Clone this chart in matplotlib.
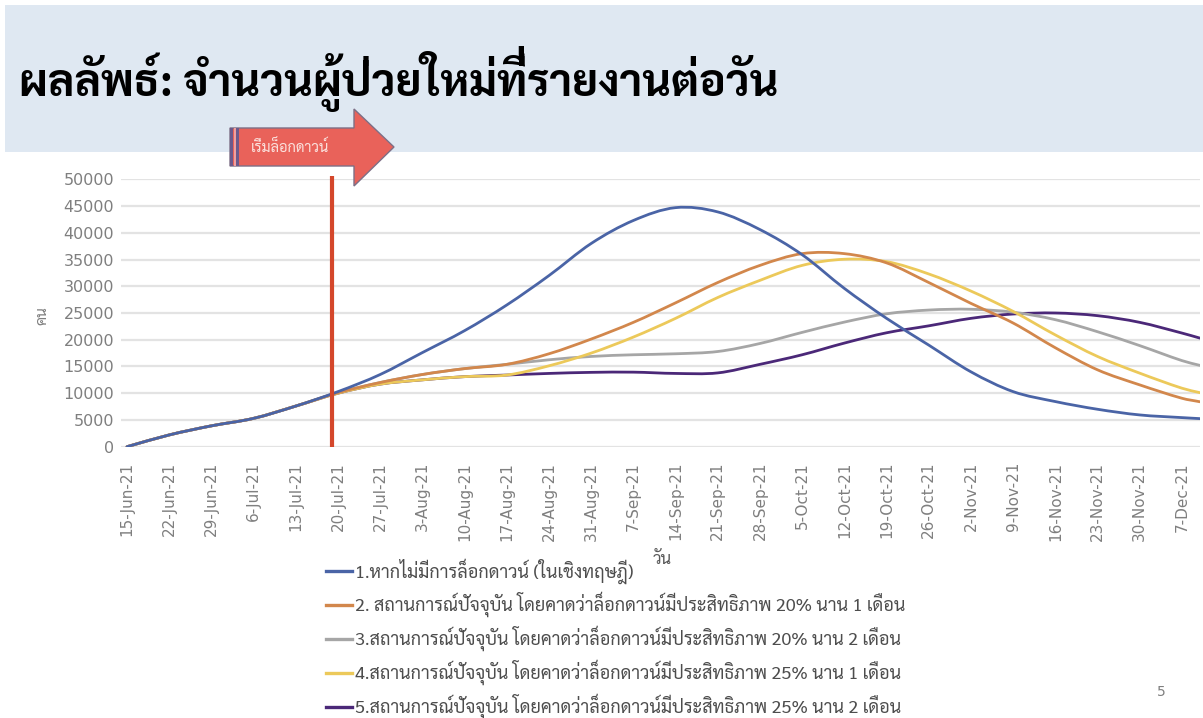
import datetime as dt
import numpy as np
import matplotlib
matplotlib.use("Agg")
import matplotlib.pyplot as plt
import matplotlib.dates as mdates
import matplotlib.transforms as mtransforms
from matplotlib.path import Path
from matplotlib.patches import PathPatch, Rectangle, Polygon
from matplotlib.lines import Line2D

# ---------------- data ----------------
start = dt.date(2021, 6, 15)
day_offsets = [0, 7, 14, 21, 28, 35, 42, 49, 56, 63, 70, 77, 84, 91, 98, 105,
               112, 119, 126, 133, 140, 147, 154, 161, 168, 175, 178]
dates = [start + dt.timedelta(days=d) for d in day_offsets]

s1_no_lockdown = [0, 2200, 3900, 5300, 7600, 10300, 13500, 17600, 21700, 26500,
                  32000, 38000, 42300, 44700, 43900, 40600, 35900, 29600, 24000,
                  19000, 14000, 10300, 8440, 7000, 5940, 5440, 5250]
s2_20pct_1m = [0, 2200, 3900, 5300, 7600, 10100, 12000, 13500, 14600, 15400,
               17375, 20125, 23250, 26900, 30700, 33900, 36100, 36100, 34375,
               30700, 26800, 23125, 18500, 14375, 11560, 9060, 8400]
s3_20pct_2m = [0, 2200, 3900, 5300, 7600, 10100, 12000, 13500, 14600, 15400,
               16250, 16875, 17190, 17375, 17800, 19300, 21375, 23300, 24850,
               25550, 25700, 25150, 23750, 21500, 18900, 16100, 15200]
s4_25pct_1m = [0, 2200, 3900, 5300, 7600, 10000, 11700, 12500, 13100, 13400,
               15125, 17500, 20500, 24000, 27900, 31100, 33900, 35050, 34600,
               32300, 29100, 25300, 20900, 16875, 13750, 10940, 10100]
s5_25pct_2m = [0, 2200, 3900, 5300, 7600, 10000, 11700, 12500, 13100, 13400,
               13700, 13900, 13940, 13700, 13800, 15400, 17190, 19375, 21300,
               22600, 24000, 24810, 25000, 24500, 23250, 21250, 20300]

series_labels = [
    "1.หากไม่มีการล็อกดาวน์ (ในเชิงทฤษฎี)",
    "2. สถานการณ์ปัจจุบัน โดยคาดว่าล็อกดาวน์มีประสิทธิภาพ 20% นาน 1 เดือน",
    "3.สถานการณ์ปัจจุบัน โดยคาดว่าล็อกดาวน์มีประสิทธิภาพ 20% นาน 2 เดือน",
    "4.สถานการณ์ปัจจุบัน โดยคาดว่าล็อกดาวน์มีประสิทธิภาพ 25% นาน 1 เดือน",
    "5.สถานการณ์ปัจจุบัน โดยคาดว่าล็อกดาวน์มีประสิทธิภาพ 25% นาน 2 เดือน",
]
series_colors = ["#4a64a6", "#d2874c", "#a6a6a6", "#ecc95a", "#4b2878"]

tick_offsets = list(range(0, 176, 7))
tick_labels = [(start + dt.timedelta(days=d)).strftime("%-d-%b-%y") for d in tick_offsets]
y_ticks = list(range(0, 50001, 5000))

lockdown_date = dt.date(2021, 7, 19)
title_text = "ผลลัพธ์: จำนวนผู้ป่วยใหม่ที่รายงานต่อวัน"
arrow_text = "เริ่มล็อกดาวน์"
y_label = "คน"
x_label = "วัน"
page_number = "5"

THAI = ["Sarabun", "Noto Sans Thai", "DejaVu Sans"]

# ---------------- figure ----------------
W, H = 1203, 718
fig = plt.figure(figsize=(W / 100, H / 100), dpi=100)
fig.patch.set_facecolor("white")

def fx(x):
    return x / W

def fy(y):
    return 1 - y / H

# header band
fig.patches.append(Rectangle((fx(5), fy(152)), fx(1198), (147) / H,
                             transform=fig.transFigure, facecolor="#dfe8f2",
                             edgecolor="none", zorder=0))

title_props = dict(fontsize=32, fontweight="bold", family=THAI, color="black",
                   ha="left", va="baseline")
title_x, title_y = fx(19), fy(96)
title = fig.text(title_x, title_y, title_text, **title_props)

# matplotlib has no Thai mark stacking: lift the tone mark of "ที่" above its vowel
renderer = fig.canvas.get_renderer()
cut = title_text.index("ที่")
tmp = fig.text(title_x, title_y, title_text[:cut + 2], **title_props)
bb_prefix = tmp.get_window_extent(renderer)
tmp.remove()
base_disp = fig.transFigure.transform((title_x, title_y))[1]
fig.text(bb_prefix.x1 - 1, base_disp + 10, "\u0e48", fontsize=32, fontweight="bold",
         family=THAI, color="black", ha="right", va="baseline",
         transform=mtransforms.IdentityTransform())

# axes
ax_l, ax_r = 121, 1200
ax_t, ax_b = 179.3, 446.7
ax = fig.add_axes([fx(ax_l), fy(ax_b), (ax_r - ax_l) / W, (ax_b - ax_t) / H])
ax.set_facecolor("none")

xnum = mdates.date2num(dates)

def smooth_path(x, y):
    x = np.asarray(x, float)
    y = np.asarray(y, float)
    n = len(x)
    m = np.zeros(n)
    m[0] = (y[1] - y[0]) / (x[1] - x[0])
    m[-1] = (y[-1] - y[-2]) / (x[-1] - x[-2])
    for i in range(1, n - 1):
        m[i] = (y[i + 1] - y[i - 1]) / (x[i + 1] - x[i - 1])
    verts = [(x[0], y[0])]
    codes = [Path.MOVETO]
    for i in range(n - 1):
        h = x[i + 1] - x[i]
        verts += [(x[i] + h / 3, y[i] + m[i] * h / 3),
                  (x[i + 1] - h / 3, y[i + 1] - m[i + 1] * h / 3),
                  (x[i + 1], y[i + 1])]
        codes += [Path.CURVE4] * 3
    return Path(verts, codes)

all_series = [s1_no_lockdown, s2_20pct_1m, s3_20pct_2m, s4_25pct_1m, s5_25pct_2m]
draw_order = [4, 2, 3, 1, 0]
for z, i in enumerate(draw_order):
    p = PathPatch(smooth_path(xnum, all_series[i]), facecolor="none",
                  edgecolor=series_colors[i], lw=2.0, zorder=3 + z,
                  capstyle="round", joinstyle="round")
    ax.add_patch(p)

# lockdown line
ld = mdates.date2num(lockdown_date)
ax.plot([ld, ld], [0, 50700], color="#d4472b", lw=3.0, clip_on=False, zorder=10,
        solid_capstyle="butt")

ax.set_xlim(xnum[0] - 1.0, xnum[-1])
ax.set_ylim(0, 50000)
ax.set_yticks(y_ticks)
ax.set_yticklabels([str(v) for v in y_ticks])
tick_nums = mdates.date2num([start + dt.timedelta(days=d) for d in tick_offsets])
ax.set_xticks(tick_nums)
ax.set_xticklabels(tick_labels, rotation=90, ha="center", va="top")
ax.tick_params(axis="both", length=0, colors="#7f7f7f", labelsize=11.5)
ax.tick_params(axis="x", pad=11, labelsize=11)
ax.tick_params(axis="y", pad=5)
for s in ax.spines.values():
    s.set_visible(False)
ax.grid(axis="y", color="#e3e3e3", lw=1.6, zorder=0)
ax.set_axisbelow(True)

fig.text(fx(42), fy(316), y_label, rotation=90, fontsize=11, family=THAI,
         color="#7f7f7f", ha="center", va="center")
fig.text(fx(662), fy(560), x_label, fontsize=12, family=THAI,
         color="#595959", ha="center", va="center")

# legend
handles = [Line2D([0], [0], color=c, lw=2.4) for c in series_colors]
leg = ax.legend(handles, series_labels, loc="upper left",
                bbox_to_anchor=(fx(326), fy(558)), bbox_transform=fig.transFigure,
                frameon=False, handlelength=1.45, handletextpad=0.15,
                labelspacing=0.47, borderaxespad=0, borderpad=0,
                prop={"family": THAI, "size": 13})
for t in leg.get_texts():
    t.set_color("#4d4d4d")

# arrow
fig.patches.append(Polygon(
    [(fx(230), fy(128)), (fx(354), fy(128)), (fx(354), fy(109)),
     (fx(394), fy(147)), (fx(354), fy(186)), (fx(354), fy(166)),
     (fx(230), fy(166))],
    closed=True, transform=fig.transFigure, facecolor="#e9625a",
    edgecolor="#7d6f86", lw=1.0, zorder=5))
for x0, w, c in [(230, 3, "#6c5a8c"), (233.5, 2, "#f0a0a0"), (236, 3, "#6c5a8c")]:
    fig.patches.append(Rectangle((fx(x0), fy(166)), w / W, 38 / H,
                                 transform=fig.transFigure, facecolor=c,
                                 edgecolor="none", zorder=6))
fig.text(fx(290), fy(147), arrow_text, fontsize=10.5, family=THAI,
         color="#fbe3df", ha="center", va="center", zorder=7)

fig.text(fx(1161), fy(692), page_number, fontsize=10, color="#7f7f7f",
         ha="center", va="center")

fig.savefig("out.png", dpi=100, facecolor="white")
